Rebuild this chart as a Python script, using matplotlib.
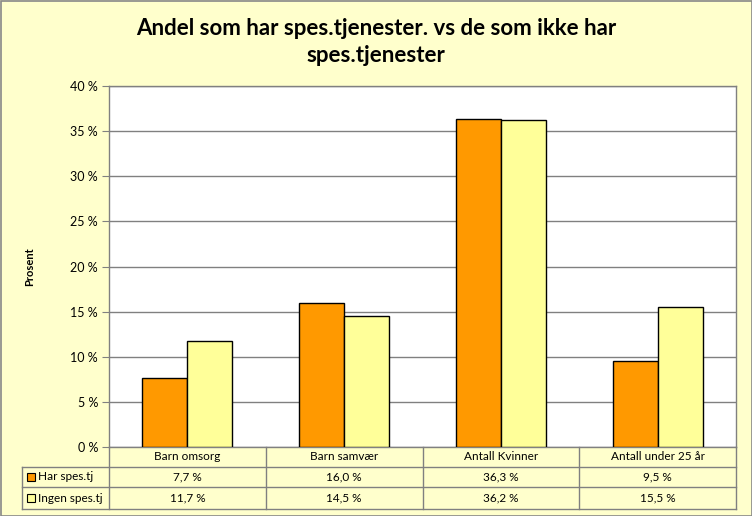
import matplotlib
matplotlib.use("Agg")
import matplotlib.pyplot as plt
from matplotlib.patches import Rectangle
from matplotlib.lines import Line2D
import numpy as np

categories = ["Barn omsorg", "Barn samvær", "Antall Kvinner", "Antall under 25 år"]
series_names = ["Har spes.tj", "Ingen spes.tj"]
har = [7.7, 16.0, 36.3, 9.5]
ingen = [11.7, 14.5, 36.2, 15.5]
yticks = [0, 5, 10, 15, 20, 25, 30, 35, 40]
title = "Andel som har spes.tjenester. vs de som ikke har\nspes.tjenester"

orange = "#FF9900"
yellow = "#FFFF99"
bg = "#FFFFCC"
grid = "#808080"
font = "Lato"

W, H = 752, 516
fig = plt.figure(figsize=(W / 100, H / 100), dpi=100)
fig.patch.set_facecolor(bg)

def fx(px):
    return px / W

def fy(py):
    return 1 - py / H

# outer border
fig.add_artist(Rectangle((fx(0.5), fy(515.5)), fx(751), 1 - 1 / H * 1, fill=False,
                         edgecolor="#888888", lw=1.2, transform=fig.transFigure))

L, R, T, B = 109, 736, 86, 447
ax = fig.add_axes([fx(L), fy(B), fx(R - L), (B - T) / H])
ax.set_facecolor("white")
x = np.arange(len(categories))
w = 0.287
ax.bar(x - w / 2, har, w, color=orange, edgecolor="black", lw=1, zorder=3)
ax.bar(x + w / 2, ingen, w, color=yellow, edgecolor="black", lw=1, zorder=3)
ax.set_xlim(-0.5, len(categories) - 0.5)
ax.set_ylim(0, 40)
ax.set_yticks(yticks)
ax.set_yticklabels([f"{t} %" for t in yticks], fontfamily=font, fontsize=9)
ax.tick_params(axis="y", length=5, color=grid, pad=3)
ax.set_xticks([])
ax.yaxis.grid(True, color=grid, lw=1, zorder=0)
for s in ax.spines.values():
    s.set_color(grid)
    s.set_linewidth(1)
ax.set_ylabel("Prosent", fontfamily=font, fontsize=8, fontweight="bold", labelpad=25)

fig.text(0.5, fy(42), title, ha="center", va="center", fontfamily=font,
         fontsize=16, fontweight="bold", linespacing=1.35)

# data table
r1, r2, r3 = 467, 487, 509
TL = 22
lc = grid
def hline(y, x0, x1):
    fig.add_artist(Line2D([fx(x0), fx(x1)], [fy(y), fy(y)], color=lc, lw=1, transform=fig.transFigure))
def vline(xp, y0, y1):
    fig.add_artist(Line2D([fx(xp), fx(xp)], [fy(y0), fy(y1)], color=lc, lw=1, transform=fig.transFigure))

hline(r1, TL, R)
hline(r2, TL, R)
hline(r3, TL, R)
vline(TL, r1, r3)
vline(L, B, r3)
cw = (R - L) / len(categories)
for i in range(1, len(categories) + 1):
    vline(L + cw * i, B, r3)

def fmt(v):
    return f"{v:.1f} %".replace(".", ",")

for i, c in enumerate(categories):
    cx = fx(L + cw * (i + 0.5))
    fig.text(cx, fy((B + r1) / 2), c, ha="center", va="center", fontfamily=font, fontsize=8.5)
    fig.text(cx, fy((r1 + r2) / 2), fmt(har[i]), ha="center", va="center", fontfamily=font, fontsize=8.5)
    fig.text(cx, fy((r2 + r3) / 2), fmt(ingen[i]), ha="center", va="center", fontfamily=font, fontsize=8.5)

for name, col, (ya, yb) in zip(series_names, [orange, yellow], [(r1, r2), (r2, r3)]):
    yc = (ya + yb) / 2
    fig.add_artist(Rectangle((fx(27), fy(yc + 4)), fx(8), 8 / H, facecolor=col,
                             edgecolor="black", lw=0.8, transform=fig.transFigure))
    fig.text(fx(38), fy(yc), name, ha="left", va="center", fontfamily=font, fontsize=8.5)

fig.savefig("out.png", dpi=100, facecolor=bg)
